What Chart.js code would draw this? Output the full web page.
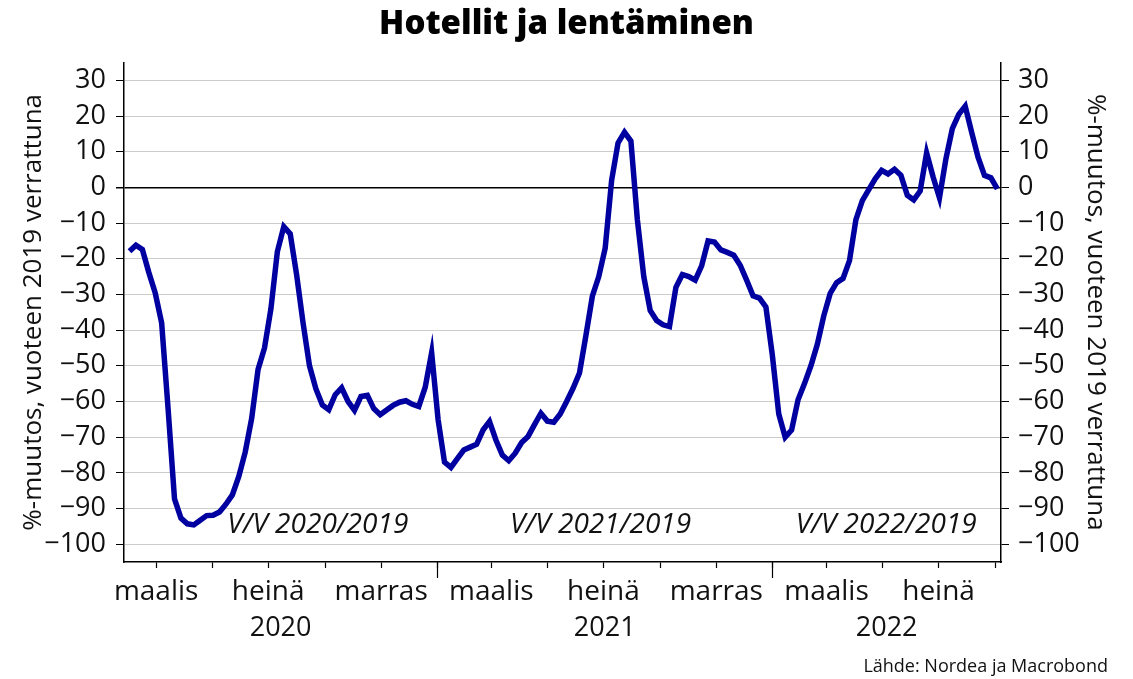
<!DOCTYPE html>
<html lang="fi">
<head>
<meta charset="utf-8">
<title>Hotellit ja lentäminen</title>
<script src="https://cdn.jsdelivr.net/npm/chart.js@4"></script>
<style>
  html, body { margin: 0; padding: 0; background: #fff; }
  #wrap { width: 1133px; height: 679px; position: relative; }
</style>
</head>
<body>
<div id="wrap"><canvas id="hotelChart"></canvas></div>
<script>
// viikoittainen sarja, alkaa helmikuun alusta 2020
const startDate = '2020-02-01';
const hotelValues = [
  -17.9, -16.2, -17.4, -23.8, -29.6, -38, -62, -87.3, -92.7, -94.3,
  -94.6, -93.3, -92, -91.9, -91, -88.8, -86.2, -81, -74.2, -64.8,
  -51, -45, -34, -18, -11, -13, -24.5, -38, -50, -56.5,
  -61, -62.3, -58.1, -56.2, -60, -62.5, -58.6, -58.3, -62, -63.7,
  -62.4, -61.1, -60.2, -59.8, -60.8, -61.4, -56, -46.3, -65, -77,
  -78.5, -76, -73.6, -72.8, -72, -68, -65.6, -70.8, -75, -76.6,
  -74.5, -71.5, -69.8, -66.5, -63.3, -65.5, -65.8, -63.5, -60, -56.3,
  -52, -41.5, -30.5, -25, -17, 2, 12.5, 15.5, 13, -9,
  -25, -34.5, -37.3, -38.5, -39, -28, -24.4, -25, -26, -22,
  -15, -15.3, -17.5, -18.2, -19, -21.8, -26, -30.4, -31, -33.5,
  -47, -63.5, -70, -68, -59.5, -55, -50, -44, -36, -29.7,
  -26.7, -25.5, -20.5, -9, -3.7, -0.6, 2.4, 4.8, 3.8, 5.1,
  3.4, -2.2, -3.5, -1, 9.7, 3, -2.9, 8, 16.5, 20.5,
  22.8, 15.5, 8.5, 3.4, 2.7, -0.4
];
const yTicks = [-100, -90, -80, -70, -60, -50, -40, -30, -20, -10, 0, 10, 20, 30];
const tickMonths = [
  '2020-03', '2020-05', '2020-07', '2020-09', '2020-11',
  '2021-01', '2021-03', '2021-05', '2021-07', '2021-09', '2021-11',
  '2022-01', '2022-03', '2022-05', '2022-07', '2022-09'
];
const monthNames = { '03': 'maalis', '07': 'heinä', '11': 'marras' };
const years = ['2020', '2021', '2022'];
const periodLabels = ['V/V 2020/2019', 'V/V 2021/2019', 'V/V 2022/2019'];
const periodLabelDates = ['2020-08-24', '2021-06-28', '2022-05-05'];

const FONT = '"Open Sans", "Noto Sans", sans-serif';

// päivät vuoden 2020 alusta
function dayNum(str) {
  const p = str.split('-').map(Number);
  return (Date.UTC(p[0], p[1] - 1, p[2] || 1) - Date.UTC(2020, 0, 1)) / 86400000;
}

const start = dayNum(startDate);
const points = hotelValues.map((v, i) => ({ x: start + i * 7, y: v }));
const tickDays = tickMonths.map(dayNum);
const tickNames = {};
tickMonths.forEach(m => { tickNames[dayNum(m)] = monthNames[m.slice(5)] || ''; });

const yLabel = v => String(v).replace('-', '\u2212');

const extras = {
  id: 'extras',
  afterDraw(chart) {
    const ctx = chart.ctx;
    const xs = chart.scales.x;
    const ys = chart.scales.y;
    const area = chart.chartArea;
    ctx.save();

    // pidemmät tikit vuoden vaihteessa
    ctx.strokeStyle = '#000';
    ctx.lineWidth = 1.2;
    tickMonths.filter(m => m.endsWith('-01')).forEach(m => {
      const px = Math.round(xs.getPixelForValue(dayNum(m))) + 0.5;
      ctx.beginPath();
      ctx.moveTo(px, area.bottom);
      ctx.lineTo(px, area.bottom + 16);
      ctx.stroke();
    });

    // vuosiluvut näkyvän jakson keskelle
    ctx.fillStyle = '#111';
    ctx.font = '27px ' + FONT;
    ctx.textAlign = 'center';
    ctx.textBaseline = 'middle';
    years.forEach(y => {
      const a = Math.max(xs.min, dayNum(y + '-01-01'));
      const b = Math.min(xs.max, dayNum((+y + 1) + '-01-01'));
      ctx.fillText(y, (xs.getPixelForValue(a) + xs.getPixelForValue(b)) / 2, area.bottom + 66);
    });

    // V/V -tekstit
    ctx.font = 'italic 28px ' + FONT;
    periodLabels.forEach((t, i) => {
      ctx.fillText(t, xs.getPixelForValue(dayNum(periodLabelDates[i])), ys.getPixelForValue(-94.7));
    });

    // lähde
    ctx.font = '18px ' + FONT;
    ctx.textAlign = 'right';
    ctx.fillText('Lähde: Nordea ja Macrobond', chart.width - 25, chart.height - 12);
    ctx.restore();
  }
};

new Chart(document.getElementById('hotelChart'), {
  type: 'line',
  data: {
    datasets: [{
      label: 'Hotellit ja lentäminen',
      data: points,
      borderColor: '#0000a0',
      borderWidth: 5.5,
      pointRadius: 0,
      tension: 0,
      yAxisID: 'y'
    }]
  },
  options: {
    responsive: true,
    maintainAspectRatio: false,
    animation: false,
    layout: { padding: 0 },
    plugins: {
      legend: { display: false },
      tooltip: { enabled: false },
      title: {
        display: true,
        text: 'Hotellit ja lentäminen',
        color: '#000',
        font: { family: FONT, size: 33, weight: 800 },
        padding: { top: 5, bottom: 18 }
      }
    },
    scales: {
      x: {
        type: 'linear',
        min: 25,
        max: 980,
        afterBuildTicks: s => { s.ticks = tickDays.map(v => ({ value: v })); },
        afterFit: s => { s.height = 117; },
        border: { color: '#000', width: 1.5 },
        grid: { drawOnChartArea: false, tickLength: 6, tickColor: '#000', tickWidth: 1.2 },
        ticks: {
          autoSkip: false,
          maxRotation: 0,
          padding: 7,
          color: '#111',
          font: { family: FONT, size: 28 },
          callback: v => tickNames[v] || ''
        }
      },
      y: {
        position: 'left',
        min: -105,
        max: 35,
        afterBuildTicks: s => { s.ticks = yTicks.map(v => ({ value: v })); },
        afterFit: s => { s.width = 124; },
        border: { color: '#000', width: 1.5 },
        grid: {
          color: ctx => ctx.tick && ctx.tick.value === 0 ? '#000' : '#cccccc',
          lineWidth: ctx => ctx.tick && ctx.tick.value === 0 ? 1.5 : 1,
          tickLength: 8,
          tickColor: '#000'
        },
        ticks: { padding: 10, color: '#111', font: { family: FONT, size: 27 }, callback: yLabel },
        title: {
          display: true,
          text: '%-muutos, vuoteen 2019 verrattuna',
          color: '#111',
          font: { family: FONT, size: 26 },
          padding: { top: 18, bottom: 0 }
        }
      },
      y2: {
        position: 'right',
        min: -105,
        max: 35,
        afterBuildTicks: s => { s.ticks = yTicks.map(v => ({ value: v })); },
        afterFit: s => { s.width = 132; },
        border: { color: '#000', width: 1.5 },
        grid: { drawOnChartArea: false, tickLength: 8, tickColor: '#000' },
        ticks: { padding: 9, color: '#111', font: { family: FONT, size: 27 }, callback: yLabel },
        title: {
          display: true,
          text: '%-muutos, vuoteen 2019 verrattuna',
          color: '#111',
          font: { family: FONT, size: 26 },
          padding: { top: 22, bottom: 0 }
        }
      }
    }
  },
  plugins: [extras]
});
</script>
</body>
</html>
